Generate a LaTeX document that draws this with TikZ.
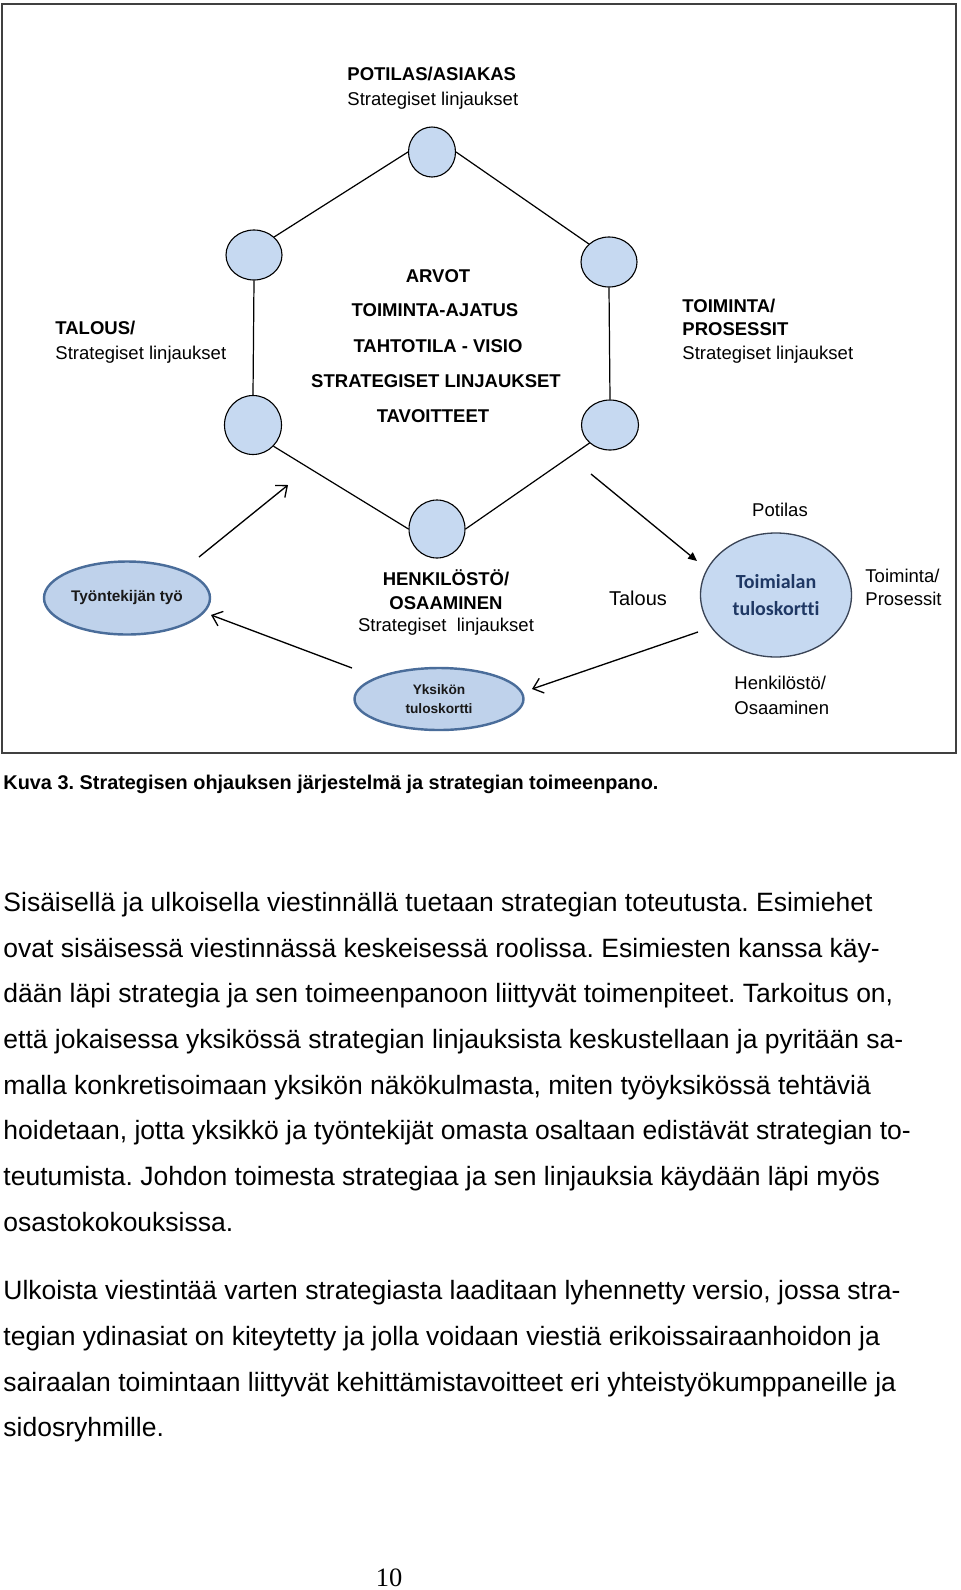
\documentclass[tikz,border=0pt]{standalone}
\usepackage{fontspec}
\setmainfont{Liberation Sans}
\newfontfamily\carlito[Ligatures={NoCommon}]{Carlito}
\newfontfamily\serifpn{Liberation Serif}
\usetikzlibrary{shapes.geometric,arrows.meta}
\def\pxu{0.4528pt}
\definecolor{cfill}{HTML}{C6D9F1}
\definecolor{efill}{HTML}{BFD2EB}
\definecolor{eborder}{HTML}{4A6D9A}
\definecolor{navy}{HTML}{1F3864}
\definecolor{tborder}{HTML}{3A4456}
\definecolor{framec}{HTML}{404040}
\begin{document}
\frenchspacing
\begin{tikzpicture}[x=0.4528pt,y=-0.4528pt,
  dtext/.style={inner sep=0pt, font=\fontsize{8.38pt}{10pt}\selectfont},
  dbold/.style={dtext, font=\fontsize{8.38pt}{10pt}\selectfont\bfseries},
  btext/.style={anchor=base west, inner sep=0pt, font=\fontsize{12pt}{14pt}\selectfont},
  smallc/.style={ellipse, draw=black, line width=0.5pt, fill=cfill, minimum width=56*\pxu, minimum height=52*\pxu, inner sep=0pt},
  bige/.style={ellipse, draw=eborder, line width=1.1pt, fill=efill, inner sep=0pt, align=center, text=black!90},
  conn/.style={line width=0.55pt, black},
  openarr/.style={line width=0.6pt, black, -{Straight Barb[length=4.2pt,width=7pt]}},
  fillarr/.style={line width=0.6pt, black, -{Triangle[length=4pt,width=3.6pt]}}]
\useasboundingbox (0,0) rectangle (960,1590);
\fill[white] (0,0) rectangle (960,1590);
% frame
\draw[framec, line width=1pt] (2,4) rectangle (956,753);

% top texts
\node[dbold, anchor=base west] (potilas) at (347,80.6) {POTILAS/ASIAKAS};
\node[dtext, anchor=base west] (potilasS) at (347,105.6) {Strategiset linjaukset};

% small circles
\node[smallc, minimum width=47*\pxu, minimum height=50*\pxu] (ctop) at (432,152) {};
\node[smallc, minimum height=50*\pxu] (cul) at (254,255) {};
\node[smallc, minimum height=50*\pxu] (cur) at (609,262) {};
\node[smallc, minimum width=57*\pxu, minimum height=59*\pxu] (cll) at (253,425) {};
\node[smallc, minimum width=57*\pxu, minimum height=50*\pxu] (clr) at (610,425) {};
\node[smallc, minimum height=58*\pxu] (cbot) at (437,529) {};

\draw[conn] (ctop.west) -- (cul.north east);
\draw[conn] (ctop.east) -- (cur.north west);
\draw[conn] (cul.south) -- (cll.north);
\draw[conn] (cur.south) -- (clr.north);
\draw[conn] (cll.south east) -- (cbot.west);
\draw[conn] (clr.south west) -- (cbot.east);

% centre texts
\node[dbold, anchor=base] (arvot) at (438,282.6) {ARVOT};
\node[dbold, anchor=base] (ajatus) at (435,316.6) {TOIMINTA-AJATUS};
\node[dbold, anchor=base] (visio) at (438,352.6) {TAHTOTILA - VISIO};
\node[dbold, anchor=base] (strat) at (436,387.6) {STRATEGISET LINJAUKSET};
\node[dbold, anchor=base] (tavo) at (433,422.6) {TAVOITTEET};

% side texts
\node[dbold, anchor=base west] (talousT) at (55,334.6) {TALOUS/};
\node[dtext, anchor=base west] (talousS) at (55,359.6) {Strategiset linjaukset};
\node[dbold, anchor=base west] (toimT) at (682,312.6) {TOIMINTA/};
\node[dbold, anchor=base west] (prosT) at (682,335.6) {PROSESSIT};
\node[dtext, anchor=base west] (toimS) at (682,359.6) {Strategiset linjaukset};

% lower part
\node[dtext, anchor=base] (potilas2) at (780,516.6) {Potilas};
\node[dtext, anchor=base west] (toim2a) at (865,582.6) {Toiminta/};
\node[dtext, anchor=base west] (toim2b) at (865,605.6) {Prosessit};
\node[inner sep=0pt, anchor=base, font=\fontsize{9.06pt}{11pt}\selectfont] (talous2) at (638,605) {Talous};
\node[dbold, anchor=base] (henkT) at (446,585.6) {HENKILÖSTÖ/};
\node[dbold, anchor=base] (osaT) at (446,609.6) {OSAAMINEN};
\node[dtext, anchor=base] (henkS) at (446,631.6) {Strategiset\ \ linjaukset};
\node[dtext, anchor=base west] (henk2a) at (734,689.6) {Henkilöstö/};
\node[dtext, anchor=base west] (henk2b) at (734,714.6) {Osaaminen};

\node[bige, minimum width=166*\pxu, minimum height=73*\pxu, font=\fontsize{6.97pt}{8pt}\selectfont\bfseries] (tyo) at (127,598) {Työntekijän työ};
\node[bige, minimum width=169*\pxu, minimum height=62*\pxu, font=\fontsize{6.2pt}{8.8pt}\selectfont\bfseries] (yks) at (439,699) {Yksikön\\tuloskortti};
\node[ellipse, draw=tborder, line width=0.6pt, fill=cfill, minimum width=151*\pxu, minimum height=124*\pxu, inner sep=0pt, align=center, text=navy, font=\carlito\fontsize{9.06pt}{12.2pt}\selectfont\bfseries] (toim) at (776,595) {Toimialan\\tuloskortti};

% arrows
\coordinate (a1s) at (199,557);
\coordinate (a1e) at (288,485);
\coordinate (a2s) at (591,474);
\coordinate (a2e) at (697,561);
\coordinate (a3s) at (698,632);
\coordinate (a3e) at (532,689);
\coordinate (a4s) at (352,668);
\coordinate (a4e) at (211,615);
\draw[openarr] (a1s) -- (a1e);
\draw[fillarr] (a2s) -- (a2e);
\draw[openarr] (a3s) -- (a3e);
\draw[openarr] (a4s) -- (a4e);

% caption
\node[anchor=base west, inner sep=0pt, font=\fontsize{9pt}{11pt}\selectfont\bfseries] (caption) at (3,789) {Kuva 3. Strategisen ohjauksen järjestelmä ja strategian toimeenpano.};

% body text
\node[btext] (l1) at (3,911) {Sisäisellä ja ulkoisella viestinnällä tuetaan strategian toteutusta. Esimiehet};
\node[btext] (l2) at (3,957) {ovat sisäisessä viestinnässä keskeisessä roolissa. Esimiesten kanssa käy-};
\node[btext] (l3) at (3,1002) {dään läpi strategia ja sen toimeenpanoon liittyvät toimenpiteet. Tarkoitus on,};
\node[btext] (l4) at (3,1048) {että jokaisessa yksikössä strategian linjauksista keskustellaan ja pyritään sa-};
\node[btext] (l5) at (3,1094) {malla konkretisoimaan yksikön näkökulmasta, miten työyksikössä tehtäviä};
\node[btext] (l6) at (3,1139) {hoidetaan, jotta yksikkö ja työntekijät omasta osaltaan edistävät strategian to-};
\node[btext] (l7) at (3,1185) {teutumista. Johdon toimesta strategiaa ja sen linjauksia käydään läpi myös};
\node[btext] (l8) at (3,1231) {osastokokouksissa.};
\node[btext] (m1) at (3,1299) {Ulkoista viestintää varten strategiasta laaditaan lyhennetty versio, jossa stra-};
\node[btext] (m2) at (3,1345) {tegian ydinasiat on kiteytetty ja jolla voidaan viestiä erikoissairaanhoidon ja};
\node[btext] (m3) at (3,1391) {sairaalan toimintaan liittyvät kehittämistavoitteet eri yhteistyökumppaneille ja};
\node[btext] (m4) at (3,1436) {sidosryhmille.};

% page number
\node[anchor=base, inner sep=0pt, font=\serifpn\fontsize{12pt}{14pt}\selectfont] (pagenum) at (389,1586) {10};
\end{tikzpicture}
\end{document}
